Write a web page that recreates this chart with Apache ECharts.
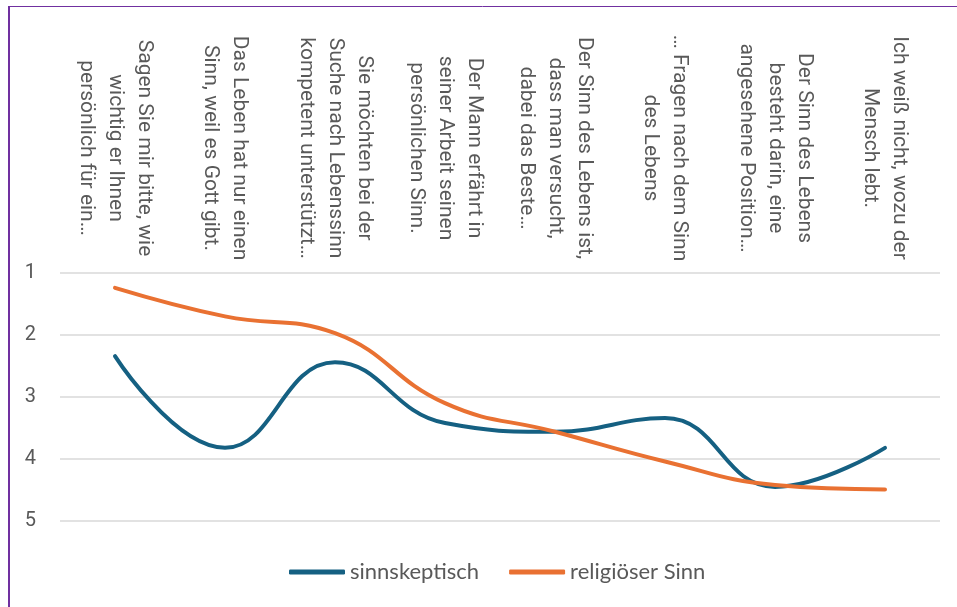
<!DOCTYPE html>
<html>
<head>
<meta charset="utf-8">
<script src="https://cdn.jsdelivr.net/npm/echarts@6/dist/echarts.min.js"></script>
<style>
  html, body { margin: 0; padding: 0; background: #fff; }
  #chart { width: 957px; height: 607px; }
</style>
</head>
<body>
<div id="chart"></div>
<script>
// Kategorien (Aussagen)
const categories = [
  'Sagen Sie mir bitte, wie\nwichtig er Ihnen\npersönlich für ein…',
  'Das Leben hat nur einen\nSinn, weil es Gott gibt.',
  'Sie möchten bei der\nSuche nach Lebenssinn\nkompetent unterstützt…',
  'Der Mann erfährt in\nseiner Arbeit seinen\npersönlichen Sinn.',
  'Der Sinn des Lebens ist,\ndass man versucht,\ndabei das Beste…',
  '… Fragen nach dem Sinn\ndes Lebens',
  'Der Sinn des Lebens\nbesteht darin, eine\nangesehene Position…',
  'Ich weiß nicht, wozu der\nMensch lebt.'
];
const sinnskeptisch = [2.34, 3.82, 2.44, 3.42, 3.56, 3.34, 4.45, 3.82];
const religioeserSinn = [1.24, 1.70, 1.97, 3.10, 3.56, 4.04, 4.42, 4.49];
const yTicks = [1, 5, 1]; // min, max, interval

const chart = echarts.init(document.getElementById('chart'));
const textColor = '#595959';

let option = {
  animation: false,
  grid: {
    left: 60,
    right: 17,
    top: 273,
    bottom: 86
  },
  legend: {
    bottom: 19,
    left: 284,
    icon: 'roundRect',
    itemWidth: 56,
    itemHeight: 5,
    itemGap: 30,
    textStyle: {
      color: textColor,
      fontSize: 22,
      fontFamily: 'Lato'
    },
    data: ['sinnskeptisch', 'religiöser Sinn']
  },
  xAxis: {
    type: 'category',
    position: 'top',
    data: categories,
    boundaryGap: true,
    axisLine: { show: false },
    axisTick: { show: false },
    axisLabel: {
      interval: 0,
      rotate: 90,
      align: 'center',
      verticalAlign: 'middle',
      margin: 125,
      color: textColor,
      fontSize: 21,
      lineHeight: 29,
      fontFamily: 'Roboto'
    }
  },
  yAxis: {
    type: 'value',
    inverse: true,
    min: yTicks[0],
    max: yTicks[1],
    interval: yTicks[2],
    axisLine: { show: false },
    axisTick: { show: false },
    axisLabel: {
      color: textColor,
      fontSize: 20,
      margin: 24,
      fontFamily: 'Roboto'
    },
    splitLine: {
      lineStyle: { color: '#d9d9d9', width: 1.5 }
    }
  },
  series: [
    {
      name: 'sinnskeptisch',
      type: 'line',
      data: sinnskeptisch,
      smooth: 0.45,
      showSymbol: false,
      color: '#156082',
      lineStyle: { width: 4, cap: 'round' }
    },
    {
      name: 'religiöser Sinn',
      type: 'line',
      data: religioeserSinn,
      smooth: 0.45,
      showSymbol: false,
      color: '#E97132',
      lineStyle: { width: 4, cap: 'round' }
    }
  ],
  graphic: [
    // abgeschnittener Rahmen oben und links
    { type: 'line', shape: { x1: 8, y1: 6.5, x2: 957, y2: 6.5 }, style: { stroke: '#7030A0', lineWidth: 1 } },
    { type: 'line', shape: { x1: 9, y1: 6, x2: 9, y2: 607 }, style: { stroke: '#7030A0', lineWidth: 2 } }
  ]
};
chart.setOption(option);
</script>
</body>
</html>
